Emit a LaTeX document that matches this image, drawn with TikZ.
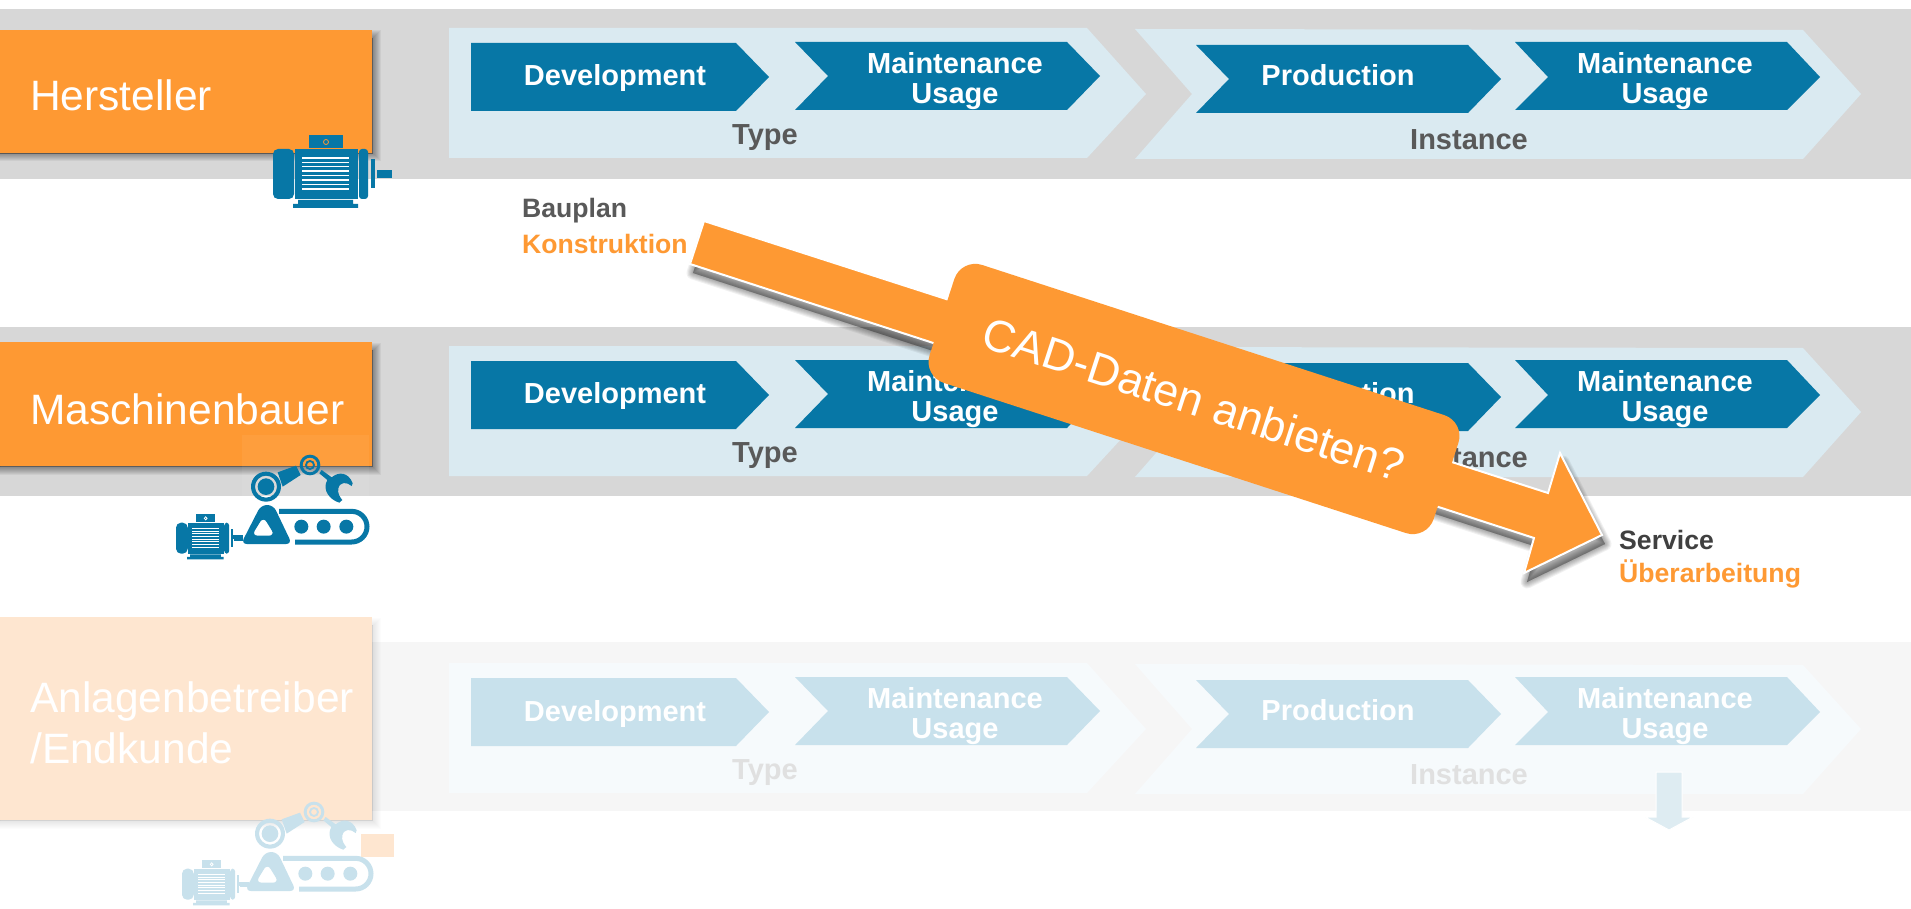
\documentclass[tikz,border=0pt]{standalone}
\usepackage{fontspec}
\setmainfont{Liberation Sans}
\definecolor{bandc}{HTML}{D7D7D7}
\definecolor{lightc}{HTML}{DAEAF1}
\definecolor{bluec}{HTML}{0777A6}
\definecolor{orangec}{HTML}{FE9933}
\definecolor{grayc}{HTML}{595959}
\definecolor{darkc}{HTML}{404040}
\definecolor{bandp}{HTML}{F6F6F6}
\definecolor{lightp}{HTML}{F6FAFC}
\definecolor{bluep}{HTML}{C8E1EC}
\definecolor{orangep}{HTML}{FEE6D0}
\definecolor{grayp}{HTML}{E0E0E0}
\tikzset{
  chevtext/.style={text=#1,font=\fontsize{29}{29.5}\bfseries\selectfont,align=center,inner sep=0pt},
  rowlabel/.style={text=white,font=\fontsize{42.5}{60}\selectfont,anchor=west,align=left,inner sep=0pt},
  notetext/.style={text=#1,font=\fontsize{26.6}{30}\bfseries\selectfont,anchor=west,inner sep=0pt},
}
% process chain: #1 name prefix, #2 band, #3 light, #4 dark, #5 label colour, #6 dark text colour
\newcommand{\processrow}[6]{
  \fill[#3] (449,28) -- (1087,28) -- (1146,94) -- (1087,158) -- (449,158) -- cycle;
  \fill[#3] (1135,29) -- (1803,30) -- (1861,94) -- (1803,159) -- (1135,159) -- (1192,94) -- cycle;
  \fill[#4] (471,43) -- (736,43) -- (769,77) -- (736,111) -- (471,111) -- cycle;
  \fill[#4] (795,42) -- (1067,42) -- (1100,76) -- (1067,110) -- (795,110) -- (828,76) -- cycle;
  \fill[#4] (1196,45) -- (1468,45) -- (1501,79) -- (1468,113) -- (1196,113) -- (1229,79) -- cycle;
  \fill[#4] (1515,42) -- (1787,42) -- (1820,77) -- (1787,110) -- (1515,110) -- (1548,77) -- cycle;
  \node[chevtext=white] (#1dev) at (615,78.5) {Development};
  \node[chevtext=white] (#1mainta) at (955,81) {Maintenance\\Usage};
  \node[chevtext=white] (#1prod) at (1338,75) {Production};
  \node[chevtext=white] (#1maintb) at (1665,81) {Maintenance\\Usage};
  \node[chevtext=#5] (#1type) at (765,138) {Type};
  \node[chevtext=#5] (#1inst) at (1469,140) {Instance};
}
% motor icon, local origin = top left of body
\newcommand{\motoricon}[2]{
  \fill[#1,rounded corners=5] (0,14) -- (21,14) -- (21,64) -- (0,64) -- cycle;
  \fill[#1] (22,14) rectangle (85,64);
  \fill[#1,rounded corners=3] (86,14) -- (95,14) -- (95,64) -- (86,64) -- cycle;
  \fill[#1] (98,24) rectangle (102,53);
  \fill[#1] (104,35) rectangle (119,43);
  \fill[#1] (36,0) rectangle (70,13);
  \draw[#2,line width=.8] (53,7) circle (2.5);
  \foreach \yy in {23,27.5,31.5,36,40.5,45,49.5,54}
    \draw[white,line width=1.1] (29,\yy) -- (76,\yy);
  \fill[#1] (25,65) -- (80,65) -- (80,69) -- (85,69) -- (85,73) -- (20,73) -- (20,69) -- (25,69) -- cycle;
}
% robot icon, drawn in 3x zoom pixels
\newcommand{\roboticon}[1]{
  \fill[#1,even odd rule] (408,200) circle (45) (408,200) circle (33);
  \fill[#1] (408,200) circle (25);
  \fill[#1,even odd rule] (540,135) circle (31) (540,135) circle (22);
  \fill[#1,even odd rule] (540,135) circle (15) (540,135) circle (9);
  \fill[#1] (443,157) -- (498,137) -- (512,165) -- (458,200) -- cycle;
  \fill[#1] (568,160) -- (575,150) -- (605,172) .. controls (625,155) and (655,155) .. (668,190) -- (665,198)
     .. controls (650,185) and (630,185) .. (625,205) .. controls (622,220) and (630,232) .. (637,240) -- (628,248)
     .. controls (600,240) and (575,210) .. (592,180) -- cycle;
  \fill[#1,even odd rule,rounded corners=6] (393,255) -- (430,255) -- (486,372) -- (333,372) -- cycle
     (400,290) -- (365,347) -- (435,347) -- cycle;
  \draw[#1,line width=5] (447,274) -- (665,274) arc[start angle=-90,end angle=90,radius=46] -- (495,366);
  \foreach \xx in {514,581,649} \fill[#1] (\xx,320) circle (21);
  \fill[#1] (308,345) rectangle (340,358);
}
\def\bigarrow{(704,221) -- (1548,493) -- (1560,453) -- (1602,535) -- (1524,573) -- (1534,538) -- (690,264) -- cycle}
\begin{document}
\begin{tikzpicture}[x=1pt,y=-1pt]
\useasboundingbox (0,0) rectangle (1911,909);
\fill[white] (0,0) rectangle (1911,909);
% bands
\fill[bandc] (0,9) rectangle (1911,179);
\fill[bandc] (0,327) rectangle (1911,496);
\fill[bandp] (0,642) rectangle (1911,811);
% chains
\begin{scope}\processrow{a}{bandc}{lightc}{bluec}{grayc}{white}\end{scope}
\begin{scope}[shift={(0,318)}]\processrow{b}{bandc}{lightc}{bluec}{grayc}{white}\end{scope}
\begin{scope}[shift={(0,635)}]\processrow{c}{bandp}{lightp}{bluep}{grayp}{white}\end{scope}
% box shadows
\foreach \w in {1,3,5,7,9,11,13,15}{
  \fill[black,opacity=.05,draw=black,line width=\w] (0,38) rectangle (373,154);
  \fill[black,opacity=.05,draw=black,line width=\w] (0,350) rectangle (373,467);
  \fill[black,opacity=.01,draw=black,line width=\w] (0,625) rectangle (373,821);
}
% actor boxes
\fill[orangec] (0,30) rectangle (372,153);
\fill[orangec] (0,342) rectangle (372,466);
\fill[orangep] (0,617) rectangle (372,820);
\node[rowlabel] (hersteller) at (30,95) {Hersteller};
\node[rowlabel] (maschinenbauer) at (30,409) {Maschinenbauer};
\node[rowlabel] (anlagen) at (30,702) {Anlagenbetreiber};
\node[rowlabel] (endkunde) at (30,748) {/Endkunde};
\fill[orangep] (361,834) rectangle (394,857);
% icons
\begin{scope}[shift={(273,135)}]\motoricon{bluec}{orangec}\end{scope}
\fill[white,opacity=.05] (242,435) rectangle (369,564);
\begin{scope}[shift={(176,514)},xscale=.56,yscale=.62]\motoricon{bluec}{white}\end{scope}
\begin{scope}[shift={(130,420)},scale=.33333]\roboticon{bluec}\end{scope}
\begin{scope}[shift={(182,860)},xscale=.56,yscale=.62]\motoricon{bluep}{white}\end{scope}
\begin{scope}[shift={(134,767)},scale=.33333]\roboticon{bluep}\end{scope}
% small down arrow
\fill[draw=white,line width=1,fill=lightc!90!white] (1656,772) -- (1682,772) -- (1682,817) -- (1693,817) -- (1669,830) -- (1645,817) -- (1656,817) -- cycle;
% notes
\node[notetext=grayc] (bauplan) at (522,211) {Bauplan};
\node[notetext=orangec] (konstruktion) at (522,244) {Konstruktion};
\node[notetext=darkc] (service) at (1619,540) {Service};
\node[notetext=orangec] (ueber) at (1619,574) {Überarbeitung};
% big arrow
\begin{scope}[shift={(3,9)}]
\foreach \w in {1,3,5,7,9,11,13}
  \fill[black,opacity=.055,draw=black,line width=\w,line join=round] \bigarrow;
\end{scope}
\fill[orangec,draw=white,line width=2,line join=miter] \bigarrow;
% label on arrow
\node[fill=orangec,rounded corners=22pt,rotate=-18,minimum width=530pt,minimum height=124pt,inner sep=0pt,
  text=white,font=\fontsize{45}{50}\selectfont] (cad) at (1194,399) {CAD-Daten anbieten?};
\end{tikzpicture}
\end{document}
